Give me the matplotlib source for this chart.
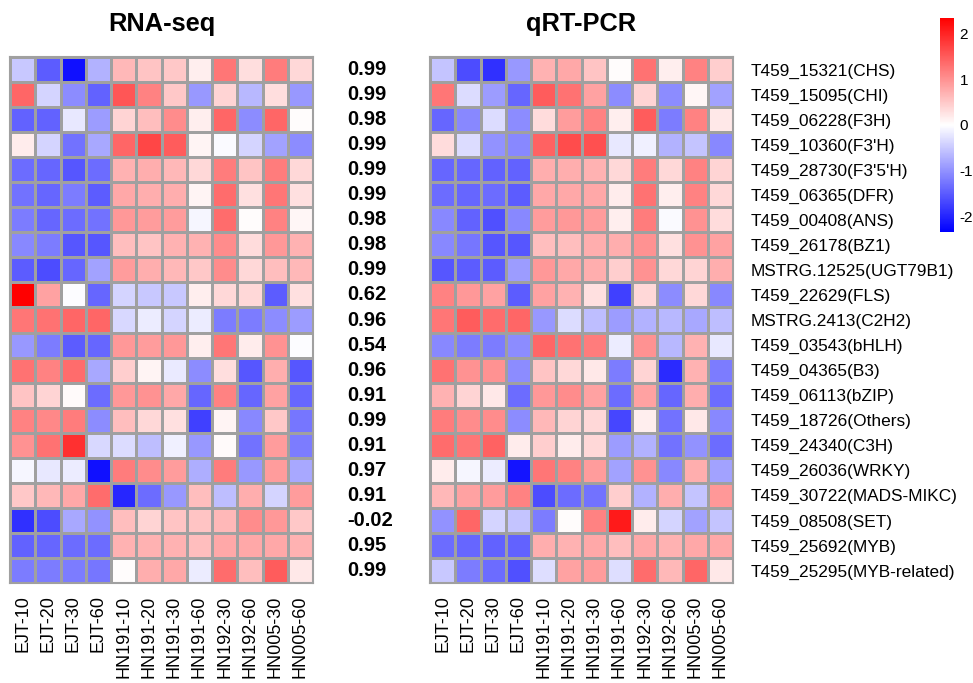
import numpy as np
import matplotlib
matplotlib.use("Agg")
import matplotlib.pyplot as plt
from matplotlib.colors import LinearSegmentedColormap

plt.rcParams['font.family'] = ['Liberation Sans', 'DejaVu Sans']

samples = ["EJT-10", "EJT-20", "EJT-30", "EJT-60",
           "HN191-10", "HN191-20", "HN191-30", "HN191-60",
           "HN192-30", "HN192-60", "HN005-30", "HN005-60"]

genes = ["T459_15321(CHS)", "T459_15095(CHI)", "T459_06228(F3H)", "T459_10360(F3'H)",
         "T459_28730(F3'5'H)", "T459_06365(DFR)", "T459_00408(ANS)", "T459_26178(BZ1)",
         "MSTRG.12525(UGT79B1)", "T459_22629(FLS)", "MSTRG.2413(C2H2)", "T459_03543(bHLH)",
         "T459_04365(B3)", "T459_06113(bZIP)", "T459_18726(Others)", "T459_24340(C3H)",
         "T459_26036(WRKY)", "T459_30722(MADS-MIKC)", "T459_08508(SET)", "T459_25692(MYB)",
         "T459_25295(MYB-related)"]

corr = ["0.99", "0.99", "0.98", "0.99", "0.99", "0.99", "0.98", "0.98", "0.99", "0.62",
        "0.96", "0.54", "0.96", "0.91", "0.99", "0.91", "0.97", "0.91", "-0.02", "0.95", "0.99"]

# z-scores, RNA-seq
rna = [
    [-0.5, -1.5, -2.2, -0.7, 0.65, 0.55, 0.5, 0.15, 1.25, 0.3, 1.2, 0.35],
    [1.4, -0.4, -1.05, -1.45, 1.55, 1.15, 0.5, -0.95, 0.4, -0.65, 0.3, -0.95],
    [-1.45, -1.45, -0.22, -0.9, 0.4, 0.6, 1.05, 0.15, 1.4, -1.05, 1.4, 0.02],
    [0.18, -0.4, -1.3, -0.8, 1.4, 1.7, 1.5, 0.1, -0.05, -0.4, -0.85, -1.05],
    [-1.35, -1.4, -1.55, -1.35, 0.7, 0.75, 0.65, 0.35, 1.2, 0.55, 1.2, 0.35],
    [-1.3, -1.4, -1.2, -1.5, 0.8, 0.75, 0.75, 0.1, 1.35, 0.28, 1.25, 0.28],
    [-1.2, -1.4, -1.35, -1.3, 0.95, 0.9, 0.9, -0.08, 1.35, 0.02, 1.15, 0.08],
    [-1.1, -1.2, -1.55, -1.55, 0.6, 0.55, 0.7, 0.7, 1.05, 0.32, 0.95, 0.7],
    [-1.5, -1.65, -1.4, -0.85, 0.9, 0.75, 0.65, 0.5, 1.05, 0.35, 0.6, 0.65],
    [2.35, 0.85, -0.02, -1.4, -0.4, -0.5, -0.5, 0.15, 0.35, 0.35, -1.5, 0.28],
    [1.25, 1.3, 1.4, 1.4, -0.35, -0.18, -0.4, -0.18, -1.2, -1.2, -1.05, -0.9],
    [-0.95, -1.2, -1.5, -1.4, 0.95, 0.9, 0.95, 0.15, 1.25, 0.18, 1.0, -0.03],
    [1.3, 1.15, 1.35, -0.8, 0.45, 0.1, -0.2, -1.05, 0.3, -1.55, 0.75, -1.55],
    [0.55, 0.4, 0.05, -1.35, 0.95, 1.0, 0.8, -1.4, 1.15, -1.4, 0.85, -1.4],
    [1.15, 1.1, 1.2, -1.05, 0.6, 0.35, 0.28, -1.75, 0.1, -1.1, 0.5, -1.25],
    [1.0, 1.3, 1.9, -0.35, -0.32, -0.6, -0.13, -0.95, 0.05, -1.3, 0.9, -1.2],
    [-0.08, -0.22, -0.18, -2.2, 1.2, 1.05, 0.9, -0.75, 1.2, -0.95, 0.9, -0.8],
    [0.5, 0.65, 0.8, 1.35, -2.0, -1.35, -0.95, 0.6, -0.6, 0.75, -0.4, 0.9],
    [-1.9, -1.65, -0.8, -1.0, 0.6, 0.4, 0.55, 0.55, 0.65, 1.05, 0.95, 0.5],
    [-1.45, -1.4, -1.35, -1.35, 0.7, 0.7, 0.7, 0.6, 0.8, 0.8, 0.8, 0.7],
    [-1.2, -1.2, -1.2, -1.25, 0.02, 0.75, 0.8, -0.18, 1.35, 0.6, 1.5, 0.22],
]

# z-scores, qRT-PCR
qpcr = [
    [-0.55, -1.65, -1.9, -0.95, 0.7, 0.8, 0.55, 0.02, 1.3, 0.15, 1.15, 0.45],
    [1.25, -0.32, -0.9, -1.4, 1.5, 1.3, 0.85, -1.05, 0.4, -1.05, 0.08, -0.85],
    [-1.4, -1.1, -0.32, -1.05, 0.32, 0.9, 1.15, 0.15, 1.5, -1.2, 1.15, 0.22],
    [0.32, -0.32, -1.0, -1.1, 1.45, 1.65, 1.6, -0.22, -0.13, -0.7, -0.55, -1.1],
    [-1.4, -1.4, -1.45, -1.45, 0.75, 0.75, 0.7, 0.35, 1.2, 0.35, 1.15, 0.4],
    [-1.35, -1.4, -1.35, -1.5, 0.8, 0.8, 0.8, 0.18, 1.3, 0.15, 1.15, 0.35],
    [-1.1, -1.45, -1.6, -1.1, 0.9, 0.95, 0.9, 0.15, 1.2, -0.05, 1.0, 0.32],
    [-1.1, -1.25, -1.55, -1.55, 0.6, 0.6, 0.75, 0.75, 1.0, 0.28, 1.0, 0.85],
    [-1.55, -1.5, -1.5, -0.9, 0.95, 0.8, 0.75, 0.45, 1.0, 0.35, 0.4, 0.75],
    [1.15, 0.95, 0.85, -1.5, 0.85, 0.7, 0.28, -1.75, 0.35, -1.05, 0.35, -1.1],
    [1.25, 1.5, 1.35, 1.4, -0.95, -0.32, -0.6, -0.9, -0.7, -0.65, -0.8, -0.6],
    [-1.1, -1.2, -1.2, -1.05, 1.4, 1.3, 1.2, -0.18, 1.0, -0.65, 0.7, -0.22],
    [1.3, 1.0, 1.0, -1.05, 0.55, 0.35, 0.22, -1.2, 0.4, -1.95, 0.7, -1.2],
    [0.7, 0.4, 0.22, -1.35, 0.95, 1.05, 0.85, -1.35, 0.85, -1.4, 0.75, -1.35],
    [1.2, 1.05, 1.05, -1.05, 0.65, 0.4, 0.35, -1.7, 0.15, -1.3, 0.22, -1.1],
    [1.35, 1.25, 1.45, 0.18, 0.45, 0.18, 0.35, -0.9, -0.7, -1.3, -1.0, -1.35],
    [0.18, -0.08, -0.18, -2.15, 1.25, 1.15, 0.9, -0.85, 1.0, -1.1, 0.75, -0.85],
    [0.65, 0.85, 0.9, 1.15, -1.65, -1.35, -1.3, 0.45, -0.7, 0.75, -0.55, 0.95],
    [-1.0, 1.4, -0.4, -0.55, -1.2, 0.03, 1.15, 2.1, 0.18, -0.4, -0.85, -0.55],
    [-1.35, -1.4, -1.45, -1.45, 0.75, 0.7, 0.8, 0.6, 0.8, 0.7, 0.8, 0.8],
    [-0.5, -1.2, -1.35, -1.6, -0.3, 0.85, 0.9, -0.3, 1.35, 0.65, 1.4, 0.22],
]

cmap = LinearSegmentedColormap.from_list("bwr2", ["#0000FF", "#FFFFFF", "#FF0000"])
vmin, vmax = -2.35, 2.35

W, H = 973, 683
fig = plt.figure(figsize=(W / 100, H / 100), dpi=100)

def px_axes(x0, y0, x1, y1):
    return fig.add_axes([x0 / W, 1 - y1 / H, (x1 - x0) / W, (y1 - y0) / H])

def draw_heat(ax, data, title):
    mesh = ax.pcolormesh(np.array(data), cmap=cmap, vmin=vmin, vmax=vmax,
                         edgecolors="#A0A0A0", linewidth=1.0)
    ax.set_xlim(0, len(samples))
    ax.set_ylim(len(genes), 0)
    ax.set_xticks(np.arange(len(samples)) + 0.5)
    ax.set_xticklabels(samples, rotation=90, fontsize=13)
    ax.tick_params(axis="x", length=0, pad=9)
    ax.set_yticks([])
    for s in ax.spines.values():
        s.set_color("#A0A0A0")
        s.set_linewidth(1.5)
    ax.set_title(title, fontsize=18.3, fontweight="bold", pad=19)
    return mesh

ax1 = px_axes(10, 57, 313, 583)
draw_heat(ax1, rna, "RNA-seq")

ax2 = px_axes(430, 57, 733, 583)
mesh = draw_heat(ax2, qpcr, "qRT-PCR")
ax2.yaxis.tick_right()
ax2.set_yticks(np.arange(len(genes)) + 0.5)
ax2.set_yticklabels(genes, fontsize=12.4)
ax2.tick_params(axis="y", length=0, pad=13)

# correlation column
axc = px_axes(347, 57, 425, 583)
axc.set_xlim(0, 1)
axc.set_ylim(len(genes), 0)
for i, c in enumerate(corr):
    axc.text(0.0, i + 0.5, c, ha="left", va="center", fontsize=14.5, fontweight="bold")
axc.axis("off")

# colorbar
cax = px_axes(940, 18, 954, 232)
cb = fig.colorbar(mesh, cax=cax, ticks=[-2, -1, 0, 1, 2])
cb.outline.set_visible(False)
cb.ax.tick_params(length=0, labelsize=11, pad=4)
cb.ax.set_yticklabels(["-2", "-1", "0", "1", "2"])

fig.savefig("out.png", dpi=100)
